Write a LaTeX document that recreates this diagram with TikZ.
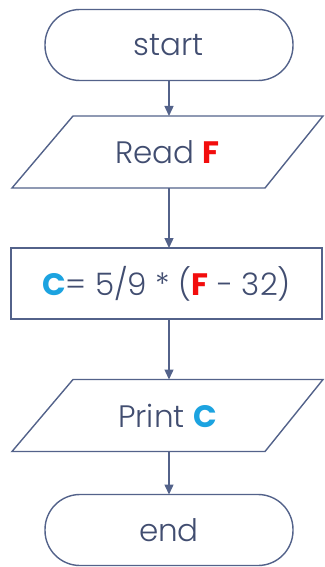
\documentclass[tikz,border=0pt]{standalone}
\usepackage{fontspec}
\setmainfont{Poppins}[UprightFont=* Light,BoldFont=* Bold]
\usetikzlibrary{arrows.meta}
\definecolor{edgeblue}{HTML}{53628A}
\definecolor{inkblue}{HTML}{414D70}
\definecolor{varcyan}{HTML}{1CA3E0}
\definecolor{varred}{HTML}{F20D0D}
\begin{document}
\begin{tikzpicture}[x=1pt,y=1pt,
  base/.style={inner sep=0pt,outer sep=0pt,text=inkblue,font=\fontsize{31}{36}\selectfont},
  outline/.style={draw=edgeblue,line width=1.4pt},
  terminal/.style={base,outline,rectangle,rounded corners=35pt,minimum width=248pt,minimum height=71pt},
  io/.style={base,rectangle,minimum width=311pt,minimum height=72pt},
  process/.style={base,outline,rectangle,minimum width=311pt,minimum height=71pt},
  flow/.style={draw=edgeblue,line width=1.4pt,-{Triangle[width=9pt,length=10pt]}}]
\useasboundingbox (0,0) rectangle (324,-567);
\node[terminal] (start) at (169,-45) {start};
\node[io] (read) at (167.5,-152) {Read \textcolor{varred}{\textbf{F}}};
\node[process] (calc) at (166.5,-283.5) {\textcolor{varcyan}{\textbf{C}}= 5/9 * (\textcolor{varred}{\textbf{F}} - 32)};
\node[io] (print) at (167.5,-415.5) {Print \textcolor{varcyan}{\textbf{C}}};
\node[terminal] (end) at (169,-530) {end};
% slanted input/output boxes
\foreach \n in {read,print}
  \draw[outline,line join=miter] (\n.south west) -- ([xshift=-58pt]\n.south east)
    -- (\n.north east) -- ([xshift=61pt]\n.north west) -- cycle;
\draw[flow] (start.south) -- (start.south |- read.north);
\draw[flow] (start.south |- read.south) -- (start.south |- calc.north);
\draw[flow] (start.south |- calc.south) -- (start.south |- print.north);
\draw[flow] (start.south |- print.south) -- (end.north);
\end{tikzpicture}
\end{document}
